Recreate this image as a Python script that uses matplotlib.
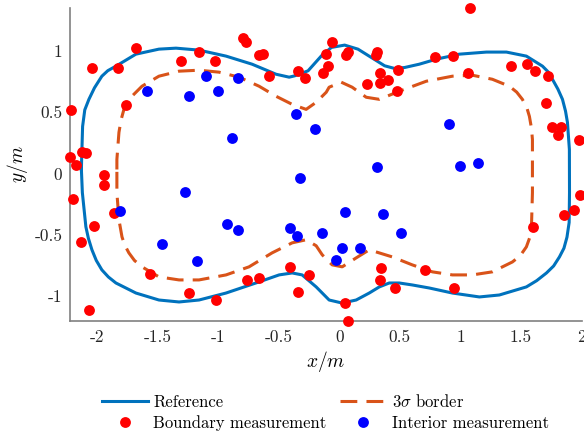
import matplotlib
matplotlib.use("Agg")
import matplotlib.pyplot as plt
from matplotlib.lines import Line2D

plt.rcParams['font.family'] = 'serif'
plt.rcParams['font.serif'] = ['cmr10', 'DejaVu Serif']
plt.rcParams['mathtext.fontset'] = 'cm'
plt.rcParams['axes.unicode_minus'] = False
plt.rcParams['axes.formatter.use_mathtext'] = False

# Reference contour (closed)
ref_x = [-2.128, -2.126, -2.118, -2.100, -2.066, -2.020, -1.959, -1.910, -1.843, -1.678,
         -1.488, -1.347, -1.157, -0.934, -0.719, -0.521, -0.413, -0.367, -0.257, -0.147,
         -0.064, 0.045, 0.155, 0.265, 0.375, 0.458, 0.540, 0.661, 0.802, 0.992,
         1.215, 1.380, 1.545, 1.678, 1.725, 1.760, 1.805, 1.843, 1.868, 1.884,
         1.900, 1.901, 1.898, 1.880, 1.855, 1.818, 1.770, 1.711, 1.630, 1.545,
         1.322, 1.157, 0.934, 0.744, 0.603, 0.496, 0.413, 0.331, 0.248, 0.140,
         0.025, -0.083, -0.190, -0.306, -0.388, -0.496, -0.661, -0.934, -1.157, -1.322,
         -1.488, -1.678, -1.843, -1.905, -1.959, -2.005, -2.041, -2.070, -2.091, -2.120,
         -2.128]
ref_y = [0.033, 0.115, 0.385, 0.520, 0.606, 0.700, 0.795, 0.840, 0.877, 0.975,
         1.016, 1.024, 1.008, 0.959, 0.893, 0.811, 0.787, 0.798, 0.839, 0.961,
         1.030, 1.049, 1.016, 0.948, 0.880, 0.858, 0.866, 0.893, 0.934, 0.975,
         0.992, 0.992, 0.959, 0.877, 0.830, 0.770, 0.690, 0.606, 0.510, 0.418,
         0.197, -0.156, -0.400, -0.520, -0.610, -0.681, -0.755, -0.812, -0.875, -0.926,
         -0.992, -1.008, -0.976, -0.935, -0.910, -0.894, -0.894, -0.926, -0.976, -1.033,
         -1.058, -1.033, -0.926, -0.828, -0.812, -0.828, -0.885, -0.976, -1.033, -1.049,
         -1.033, -0.976, -0.894, -0.845, -0.787, -0.710, -0.623, -0.530, -0.435, -0.156,
         0.033]

# 3-sigma border (closed)
sig_x = [-1.835, -1.835, -1.818, -1.800, -1.777, -1.750, -1.711, -1.628, -1.488, -1.322,
         -1.157, -0.992, -0.826, -0.661, -0.521, -0.388, -0.273, -0.190, -0.107, -0.083,
         0.017, 0.107, 0.223, 0.331, 0.496, 0.719, 0.934, 1.099, 1.264, 1.405,
         1.465, 1.512, 1.548, 1.570, 1.587, 1.595, 1.595, 1.587, 1.572, 1.545,
         1.495, 1.430, 1.264, 1.099, 0.934, 0.769, 0.603, 0.438, 0.248, 0.140,
         0.025, -0.058, -0.140, -0.190, -0.273, -0.388, -0.554, -0.744, -0.934, -1.157,
         -1.322, -1.488, -1.628, -1.690, -1.736, -1.770, -1.793, -1.818, -1.835, -1.835]
sig_y = [0.033, 0.115, 0.336, 0.440, 0.524, 0.585, 0.631, 0.713, 0.795, 0.836,
         0.844, 0.828, 0.787, 0.713, 0.631, 0.565, 0.524, 0.582, 0.664, 0.705,
         0.746, 0.705, 0.623, 0.606, 0.672, 0.754, 0.795, 0.803, 0.770, 0.713,
         0.665, 0.606, 0.540, 0.467, 0.370, 0.278, -0.156, -0.435, -0.525, -0.599,
         -0.670, -0.722, -0.803, -0.828, -0.828, -0.803, -0.746, -0.681, -0.623, -0.689,
         -0.762, -0.746, -0.664, -0.590, -0.541, -0.566, -0.648, -0.762, -0.828, -0.869,
         -0.869, -0.844, -0.762, -0.710, -0.648, -0.585, -0.517, -0.377, -0.156, 0.033]

# Boundary measurements
bnd_x = [-0.798, -0.773, -1.678, -2.043, -1.829, -1.156, -1.309, -1.029, -0.661, -0.633,
         -0.579, -0.340, -0.284, -0.134, -0.106, -0.059, -0.092, 0.073, 0.059, -1.760,
         -2.214, -2.222, -2.125, -2.090, -2.172, 1.076, 0.315, 0.307, 0.334, 0.232,
         0.334, 0.402, 0.485, 0.480, 0.790, 0.938, 1.062, 1.422, 1.552, 1.620,
         1.725, 1.711, 1.754, 1.829, 1.810, 1.983, -1.939, -1.939, -2.200, -1.857,
         -2.024, -2.131, -2.063, -1.562, -1.238, -1.016, -0.765, -0.664, -0.402, -0.340,
         -0.251, 0.348, 0.340, 0.458, 0.045, 0.076, 0.705, 0.944, 1.598, 1.859,
         1.941, 1.988]
bnd_y = [1.104, 1.076, 1.022, 0.866, 0.866, 0.994, 0.918, 0.916, 0.970, 0.975,
         0.798, 0.839, 0.784, 0.820, 0.975, 1.071, 0.880, 0.989, 0.967, 0.563,
         0.522, 0.134, 0.175, 0.166, 0.066, 1.352, 0.989, 0.967, 0.825, 0.730,
         0.743, 0.765, 0.847, 0.675, 0.953, 0.959, 0.820, 0.880, 0.891, 0.834,
         0.798, 0.576, 0.380, 0.377, 0.314, 0.270, -0.016, -0.093, -0.205, -0.322,
         -0.426, -0.563, -1.112, -0.822, -0.978, -1.030, -0.871, -0.850, -0.760, -0.965,
         -0.830, -0.773, -0.869, -0.934, -1.055, -1.202, -0.784, -0.932, -0.437, -0.339,
         -0.301, -0.178]

# Interior measurements
int_x = [-1.585, -1.241, -1.101, -1.002, -0.834, -0.886, -0.353, -0.200, 0.903, 0.315,
         0.996, 1.144, -1.274, -0.320, -1.810, -0.930, -0.834, -1.461, -1.172, -0.408,
         -0.345, -0.139, 0.048, 0.359, 0.513, 0.026, 0.175, -0.029]
int_y = [0.672, 0.637, 0.795, 0.672, 0.781, 0.289, 0.489, 0.363, 0.404, 0.055,
         0.063, 0.089, -0.150, -0.039, -0.307, -0.412, -0.465, -0.576, -0.711, -0.445,
         -0.511, -0.486, -0.314, -0.328, -0.484, -0.612, -0.607, -0.709]

xticks = [-2, -1.5, -1, -0.5, 0, 0.5, 1, 1.5, 2]
xtick_labels = ['-2', '-1.5', '-1', '-0.5', '0', '0.5', '1', '1.5', '2']
yticks = [-1, -0.5, 0, 0.5, 1]
ytick_labels = ['-1', '-0.5', '0', '0.5', '1']

C_REF = '#0072BD'
C_SIG = '#D95319'

fig = plt.figure(figsize=(5.84, 4.33), dpi=100)
ax = fig.add_axes([70/584, 1 - 320.7/433, (581.5 - 70)/584, (320.7 - 8)/433])

ax.plot(ref_x, ref_y, color=C_REF, lw=2.2, solid_joinstyle='round')
ax.plot(sig_x, sig_y, color=C_SIG, lw=2.2, linestyle=(0, (5.5, 3.0)))
ax.plot(bnd_x, bnd_y, 'o', color='#FF0000', ms=7.8, mew=0, clip_on=False, zorder=3)
ax.plot(int_x, int_y, 'o', color='#0000FF', ms=7.8, mew=0, clip_on=False, zorder=3)

all_x = bnd_x + int_x
all_y = bnd_y + int_y
ax.set_xlim(min(all_x), max(all_x))
ax.set_ylim(min(all_y), max(all_y))

ax.set_xticks(xticks)
ax.set_xticklabels(xtick_labels)
ax.set_yticks(yticks)
ax.set_yticklabels(ytick_labels)
ax.tick_params(length=0, labelsize=12.5, colors='#262626')
ax.tick_params(axis='x', pad=6.5)
ax.tick_params(axis='y', pad=5.5)
for s in ['top', 'right']:
    ax.spines[s].set_visible(False)
for s in ['left', 'bottom']:
    ax.spines[s].set_color('#808080')
    ax.spines[s].set_linewidth(1.2)

ax.set_xlabel(r'$x/m$', fontsize=14, labelpad=3)
ax.set_ylabel(r'$y/m$', fontsize=14, labelpad=3)

handles = [
    Line2D([], [], color=C_REF, lw=2.2),
    Line2D([], [], ls='none', marker='o', color='#FF0000', ms=7.8, mew=0),
    Line2D([], [], color=C_SIG, lw=2.2, linestyle=(0, (5.5, 3.0))),
    Line2D([], [], ls='none', marker='o', color='#0000FF', ms=7.8, mew=0),
]
labels = ['Reference', 'Boundary measurement', r'$3\sigma$ border', 'Interior measurement']
fig.legend(handles, labels, ncol=2, loc='center', bbox_to_anchor=(0.557, 0.0485),
           frameon=False, fontsize=12, handlelength=2.8, handletextpad=0.3,
           columnspacing=0.8, labelspacing=0.35, borderpad=0)

fig.savefig('out.png', dpi=100)
